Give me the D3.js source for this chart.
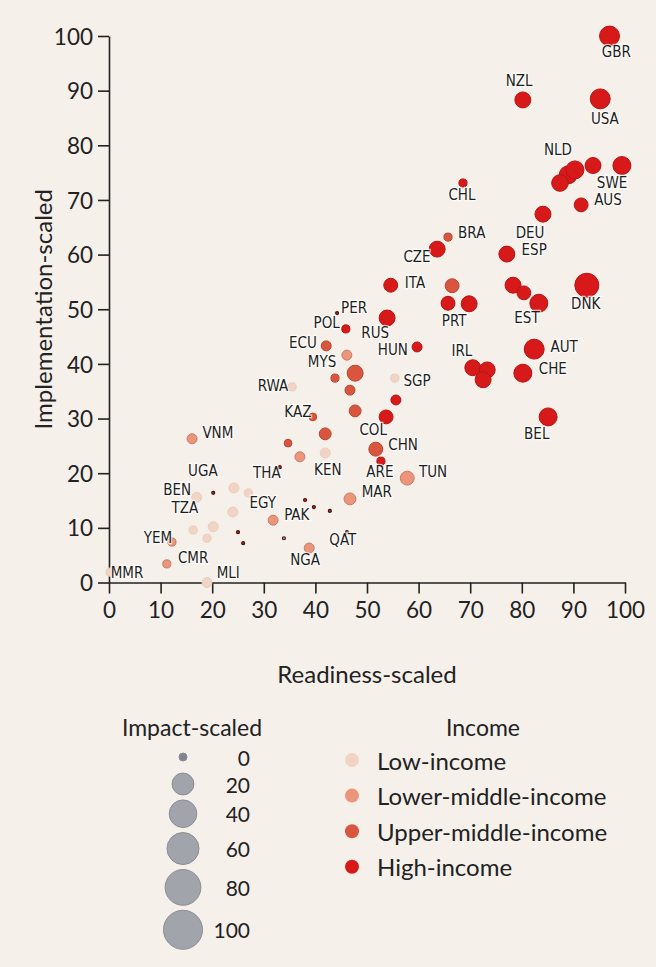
<!DOCTYPE html>
<html>
<head>
<meta charset="utf-8">
<script src="https://cdn.jsdelivr.net/npm/d3@7"></script>
<style>
  body { margin: 0; background: #f5f0ea; }
  svg { display: block; }
</style>
</head>
<body>
<div id="chart"></div>
<script>
// income: 0 low, 1 lower-middle, 2 upper-middle, 3 high
var readiness = [97, 80.2, 95.2, 87.4, 89, 90.3, 93.8, 99.4, 91.5, 84.1, 77.1, 68.6, 63.6, 54.6, 53.9, 59.7,
  65.7, 69.8, 78.3, 80.4, 83.3, 92.6, 82.4, 80.2, 70.5, 73.3, 72.5, 85.1, 45.9, 55.6, 53.7, 52.7, 44.2, 46.1,
  65.7, 66.5, 42.1, 43.8, 47.7, 46.7, 47.7, 39.5, 41.9, 34.7, 51.7,
  46.1, 16.1, 37, 46.7, 31.8, 38.8, 12.2, 11.2, 57.8,
  55.4, 24.2, 27, 24, 20.2, 16.3, 19, 17, 19, 41.9, 35.5, 0.2,
  20.2, 25, 26, 33.1, 38, 39.7, 42.8, 33.9];
var implementation = [100, 88.3, 88.5, 73.1, 74.6, 75.5, 76.3, 76.3, 69.1, 67.4, 60.1, 73.1, 61, 54.4, 48.4, 43.1,
  51.1, 51, 54.4, 53, 51.1, 54.4, 42.7, 38.3, 39.3, 38.9, 37.1, 30.3, 46.4, 33.4, 30.3, 22.2, 49.3, 9.2,
  63.2, 54.3, 43.3, 37.4, 38.3, 35.2, 31.4, 30.3, 27.2, 25.5, 24.4,
  41.6, 26.3, 23, 15.3, 11.4, 6.3, 7.4, 3.4, 19.1,
  37.4, 17.3, 16.4, 12.9, 10.2, 9.6, 8.1, 15.6, 0, 23.7, 35.8, 1.9,
  16.4, 9.2, 7.2, 21.1, 15.1, 13.8, 13.1, 8.1];
var impact = [65, 38, 65, 42, 51, 51, 38, 51, 27, 38, 38, 6, 38, 27, 38, 11,
  27, 38, 38, 27, 51, 100, 65, 51, 38, 38, 38, 51, 6, 11, 27, 6, 0, 0,
  6, 27, 11, 6, 38, 11, 18, 5, 18, 5, 27,
  11, 11, 11, 18, 11, 11, 6, 6, 27,
  6, 11, 6, 11, 11, 6, 6, 11, 11, 11, 6, 6,
  0, 0, 0, 0, 0, 0, 0, 0];
var income = [3, 3, 3, 3, 3, 3, 3, 3, 3, 3, 3, 3, 3, 3, 3, 3,
  3, 3, 3, 3, 3, 3, 3, 3, 3, 3, 3, 3, 3, 3, 3, 3, 3, 3,
  2, 2, 2, 2, 2, 2, 2, 2, 2, 2, 2,
  1, 1, 1, 1, 1, 1, 1, 1, 1,
  0, 0, 0, 0, 0, 0, 0, 0, 0, 0, 0, 0,
  3, 3, 3, 3, 3, 3, 3, 1];

// country labels, placed in data units
var labelText = ["GBR", "NZL", "USA", "NLD", "SWE", "AUS", "CHL", "BRA", "CZE", "DEU", "ESP", "ITA", "PRT", "EST",
  "DNK", "IRL", "AUT", "CHE", "BEL", "PER", "POL", "RUS", "HUN", "ECU", "MYS", "SGP", "RWA", "KAZ", "COL", "CHN",
  "KEN", "ARE", "TUN", "MAR", "QAT", "NGA", "PAK", "EGY", "THA", "VNM", "UGA", "BEN", "TZA", "YEM", "CMR", "MLI", "MMR"];
var labelX = [98.3, 79.5, 96.1, 87, 97.5, 96.7, 68.4, 70.3, 59.7, 81.6, 82.4, 59.3, 66.9, 81,
  92.4, 68.4, 88.2, 86, 82.9, 47.5, 42.2, 51.6, 55, 37.6, 41.3, 59.7, 31.8, 36.6, 51.2, 57,
  42.4, 52.5, 62.8, 51.9, 45.3, 38, 36.4, 29.8, 30.6, 21.1, 18.2, 13.2, 14.7, 9.5, 16.3, 23.1, 3.5];
var labelY = [97.1, 91.8, 84.8, 79.1, 73.1, 70, 70.9, 63.9, 59.6, 63.9, 60.8, 54.8, 47.8, 48.4,
  51, 42.4, 43.1, 39.1, 27.2, 50.2, 47.5, 45.6, 42.5, 43.8, 40.4, 36.9, 36, 31.2, 27.9, 25.2,
  20.6, 20.2, 20.2, 16.6, 7.8, 4.1, 12.4, 14.5, 20, 27.4, 20.4, 16.9, 13.6, 8.1, 4.5, 1.7, 1.7];

var axisTicks = [0, 10, 20, 30, 40, 50, 60, 70, 80, 90, 100];
var impactTicks = [0, 20, 40, 60, 80, 100];
var incomeGroups = ["Low-income", "Lower-middle-income", "Upper-middle-income", "High-income"];
var incomeColors = ["#f1d4c4", "#ec957a", "#d9553d", "#d7191a"];

function init() {

  var width = 656;
  var height = 967;
  var margin = {top: 36, right: 31, bottom: 384.5, left: 109};
  var textFont = "Lato, 'Open Sans', sans-serif";
  var labelFont = "'Liberation Sans Narrow', 'DejaVu Sans Condensed', sans-serif";

  var svg = d3.select("#chart")
    .append("svg")
    .attr("width", width)
    .attr("height", height);

  svg.append("rect")
    .attr("width", width)
    .attr("height", height)
    .attr("fill", "#f5f0ea");

  var xScale = d3.scaleLinear()
    .domain([0, 100])
    .range([margin.left, width - margin.right]);

  var yScale = d3.scaleLinear()
    .domain([0, 100])
    .range([height - margin.bottom, margin.top]);

  // circles in the plot are drawn smaller than in the legend, like the original
  var sizeScale = d3.scaleSqrt().domain([0, 100]).range([1.5, 12]);
  var legendSize = d3.scaleSqrt().domain([0, 100]).range([0, 15.5]);

  var colour = d3.scaleOrdinal()
    .domain(d3.range(incomeGroups.length))
    .range(incomeColors);

  // axes
  var xAxis = svg.append("g")
    .attr("transform", "translate(0," + yScale(0) + ")")
    .call(d3.axisBottom(xScale).tickValues(axisTicks).tickSize(11).tickSizeOuter(0).tickPadding(9));

  var yAxis = svg.append("g")
    .attr("transform", "translate(" + xScale(0) + ",0)")
    .call(d3.axisLeft(yScale).tickValues(axisTicks).tickSize(11).tickSizeOuter(0).tickPadding(5));

  [xAxis, yAxis].forEach(function(g) {
    g.selectAll("path, line").attr("stroke", "#222").attr("stroke-width", 1.6);
    g.selectAll("text")
      .attr("font-family", textFont)
      .attr("font-size", "22.5px")
      .attr("fill", "#222");
  });
  yAxis.selectAll("text").attr("dy", "0.36em");

  svg.append("text")
    .attr("x", (xScale(0) + xScale(100)) / 2)
    .attr("y", 673)
    .attr("text-anchor", "middle")
    .attr("dominant-baseline", "central")
    .attr("font-family", textFont)
    .attr("font-size", "24px")
    .attr("fill", "#222")
    .text("Readiness-scaled");

  svg.append("text")
    .attr("transform", "translate(42," + yScale(50) + ") rotate(-90)")
    .attr("text-anchor", "middle")
    .attr("dominant-baseline", "central")
    .attr("font-family", textFont)
    .attr("font-size", "24px")
    .attr("fill", "#222")
    .text("Implementation-scaled");

  // points, big ones first
  var order = d3.range(readiness.length).sort(function(a, b) {
    return impact[b] - impact[a];
  });

  svg.append("g")
    .selectAll("circle")
    .data(order)
    .enter()
    .append("circle")
    .attr("cx", function(i) { return xScale(readiness[i]); })
    .attr("cy", function(i) { return yScale(implementation[i]); })
    .attr("r", function(i) { return sizeScale(impact[i]); })
    .attr("fill", function(i) { return colour(income[i]); })
    .attr("stroke", function(i) {
      return impact[i] < 3 ? "#3a1a18" : d3.color(colour(income[i])).darker(income[i] == 0 ? 0.1 : 0.5);
    })
    .attr("stroke-width", function(i) { return impact[i] < 3 ? 1.2 : 1; });

  // country labels
  svg.append("g")
    .selectAll("text")
    .data(labelText)
    .enter()
    .append("text")
    .attr("x", function(d, i) { return xScale(labelX[i]); })
    .attr("y", function(d, i) { return yScale(labelY[i]); })
    .attr("text-anchor", "middle")
    .attr("dominant-baseline", "central")
    .attr("font-family", labelFont)
    .attr("font-size", "15px")
    .attr("fill", "#1e1e1e")
    .attr("stroke", "#ffffff")
    .attr("stroke-width", 2.5)
    .attr("stroke-opacity", 0.7)
    .attr("paint-order", "stroke")
    .text(function(d) { return d; });

  // size legend
  var sizeLegend = svg.append("g");

  sizeLegend.append("text")
    .attr("x", 192)
    .attr("y", 727)
    .attr("text-anchor", "middle")
    .attr("dominant-baseline", "central")
    .attr("font-family", textFont)
    .attr("font-size", "23px")
    .attr("fill", "#222")
    .text("Impact-scaled");

  // stack the legend circles, keeping the value labels clear of each other
  var legendR = impactTicks.map(function(v) { return 4 + legendSize(v); });
  var legendY = [];
  var yPos = 757;
  legendR.forEach(function(r, i) {
    if (i > 0) yPos += Math.max(27, legendR[i - 1] + r + 5);
    legendY.push(yPos);
  });

  sizeLegend.selectAll("circle")
    .data(impactTicks)
    .enter()
    .append("circle")
    .attr("cx", 183)
    .attr("cy", function(d, i) { return legendY[i]; })
    .attr("r", function(d, i) { return legendR[i]; })
    .attr("fill", function(d, i) { return i == 0 ? "#80848c" : "#a2a4ab"; })
    .attr("stroke", "#8a8d95")
    .attr("stroke-width", 1);

  sizeLegend.selectAll("text.val")
    .data(impactTicks)
    .enter()
    .append("text")
    .attr("class", "val")
    .attr("x", 250)
    .attr("y", function(d, i) { return legendY[i]; })
    .attr("text-anchor", "end")
    .attr("dominant-baseline", "central")
    .attr("font-family", textFont)
    .attr("font-size", "21px")
    .attr("fill", "#222")
    .text(function(d) { return d; });

  // income legend
  var incomeLegend = svg.append("g");

  incomeLegend.append("text")
    .attr("x", 483)
    .attr("y", 727)
    .attr("text-anchor", "middle")
    .attr("dominant-baseline", "central")
    .attr("font-family", textFont)
    .attr("font-size", "23px")
    .attr("fill", "#222")
    .text("Income");

  incomeLegend.selectAll("circle")
    .data(incomeGroups)
    .enter()
    .append("circle")
    .attr("cx", 352)
    .attr("cy", function(d, i) { return 760 + i * 35.6; })
    .attr("r", 7)
    .attr("fill", function(d, i) { return colour(i); });

  incomeLegend.selectAll("text.item")
    .data(incomeGroups)
    .enter()
    .append("text")
    .attr("class", "item")
    .attr("x", 377)
    .attr("y", function(d, i) { return 760 + i * 35.6; })
    .attr("dominant-baseline", "central")
    .attr("font-family", textFont)
    .attr("font-size", "24px")
    .attr("fill", "#222")
    .text(function(d) { return d; });
}
window.onload = init;
</script>
</body>
</html>
